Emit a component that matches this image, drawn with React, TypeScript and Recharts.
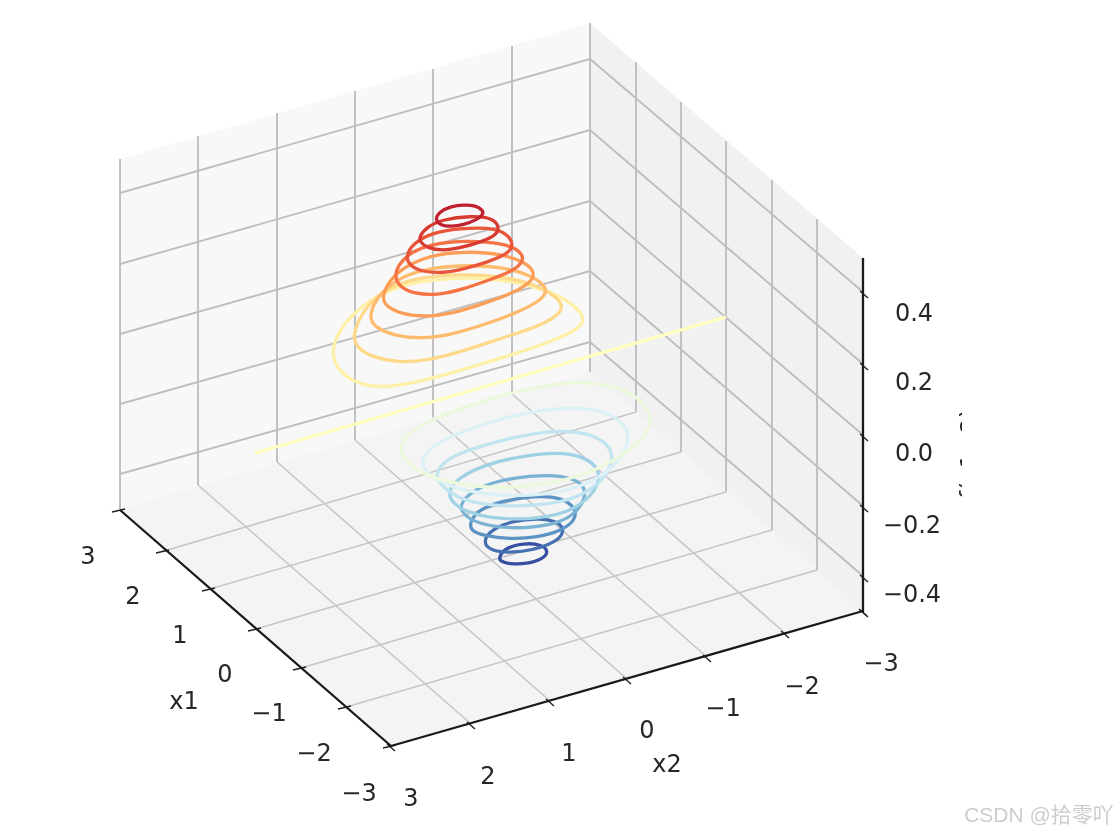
import { Area, ComposedChart, Line, Scatter, XAxis, YAxis } from 'recharts';

const WIDTH = 1117;
const HEIGHT = 835;

const leftWall = [
  { x: 120, range: [159, 509] },
  { x: 590, range: [23, 372] },
];
const rightWall = [
  { x: 590, range: [23, 372] },
  { x: 863, range: [258, 611] },
];
const floor = [
  { x: 120, range: [509, 509] },
  { x: 391, range: [430, 746] },
  { x: 590, range: [372, 689] },
  { x: 863, range: [611, 611] },
];

const wallGridLines = [
  // left wall, verticals
  [[120, 159], [120, 509]], [[198, 136], [198, 485]], [[277, 113], [277, 462]], [[355, 91], [355, 440]],
  [[433, 69], [433, 417]], [[512, 46], [512, 394]], [[590, 23], [590, 372]],
  // left wall, z levels
  [[120, 193], [590, 59]], [[120, 264], [590, 130]], [[120, 334], [590, 201]], [[120, 404], [590, 271]], [[120, 474], [590, 342]],
  // right wall, verticals
  [[636, 62], [636, 412]], [[681, 102], [681, 452]], [[726, 141], [726, 492]], [[772, 180], [772, 530]], [[817, 219], [817, 570]],
  // right wall, z levels
  [[590, 59], [863, 292]], [[590, 130], [863, 364]], [[590, 201], [863, 435]], [[590, 271], [863, 506]], [[590, 342], [863, 576]],
];

const floorGridLines = [
  [[164, 551], [636, 412]], [[210, 589], [681, 452]], [[256, 629], [726, 492]], [[301, 668], [772, 530]], [[346, 707], [817, 570]],
  [[471, 724], [198, 485]], [[550, 701], [277, 462]], [[627, 679], [355, 440]], [[707, 657], [433, 417]], [[785, 633], [512, 394]],
];

const spines = [
  [[120, 510], [391, 746]],
  [[391, 746], [863, 611]],
  [[863, 258], [863, 612]],
];

const x1Ticks = [[120, 510], [164, 551], [210, 589], [256, 629], [301, 668], [346, 707], [391, 746]];
const x2Ticks = [[391, 746], [471, 724], [550, 701], [627, 679], [707, 657], [785, 633], [863, 611]];
const zTicks = [[863, 293], [863, 365], [863, 436], [863, 507], [863, 577], [863, 612]];

const tickLabels = [
  { x: 88, y: 556, text: '3' }, { x: 133, y: 596, text: '2' }, { x: 180, y: 635, text: '1' }, { x: 225, y: 674, text: '0' },
  { x: 269, y: 713, text: '−1' }, { x: 314, y: 753, text: '−2' }, { x: 359, y: 793, text: '−3' },
  { x: 411, y: 798, text: '3' }, { x: 488, y: 776, text: '2' }, { x: 569, y: 753, text: '1' }, { x: 647, y: 730, text: '0' },
  { x: 723, y: 708, text: '−1' }, { x: 802, y: 686, text: '−2' }, { x: 881, y: 663, text: '−3' },
  { x: 914, y: 313, text: '0.4' }, { x: 914, y: 382, text: '0.2' }, { x: 914, y: 453, text: '0.0' },
  { x: 912, y: 525, text: '−0.2' }, { x: 912, y: 594, text: '−0.4' },
  { x: 184, y: 701, text: 'x1' }, { x: 667, y: 764, text: 'x2' },
];

const zLabel = [{ x: 977, y: 454, text: 'f(x1,x2)' }];
const watermark = [{ x: 1039, y: 814, text: 'CSDN @拾零吖' }];

const zeroLevel = [[255, 453], [726, 317]];

// contour levels, highest first
const warmLevels = [
  [[436, 219.3], [440.7, 211.7], [451.7, 206.7], [463.3, 205.3], [475, 206], [482, 210.7], [482, 215], [475, 220], [463.3, 224.3], [451.7, 226], [441.7, 225]],
  [[420.7, 236.7], [428.3, 227], [443.3, 220], [470, 216.7], [490, 218.3], [497.7, 226.7], [495, 235], [480, 241.7], [460, 247.3], [443.3, 250], [428.3, 247.3], [421.7, 241.7]],
  [[407.3, 256.7], [415, 243.3], [433.3, 233.3], [460, 229.3], [486.7, 228.3], [505, 233.3], [511.7, 245], [506.7, 253.3], [486.7, 261.7], [463.3, 268.3], [443.3, 272.3], [423.3, 271], [411.7, 265]],
  [[395.7, 275], [403.3, 260], [420, 248.3], [446.7, 242.7], [476.7, 241.7], [506.7, 245], [520, 253.3], [521.7, 261.7], [510, 271.7], [486.7, 280], [463.3, 288.3], [440, 294], [416.7, 293.3], [401.7, 286.7]],
  [[383.3, 296.7], [393.3, 276.7], [413.3, 263.3], [436.7, 255], [470, 252.3], [500, 255], [523.3, 262.7], [533.3, 273.3], [528.3, 283.3], [506.7, 295], [476.7, 305], [450, 313.3], [426.7, 316], [403.3, 313.3], [388.3, 306]],
  [[370.7, 315], [381.7, 293.3], [403.3, 276.7], [433.3, 268.3], [470, 266], [503.3, 268.3], [530, 276.7], [546, 288.3], [540, 300], [513.3, 313.3], [480, 325], [450, 334], [423.3, 337.7], [396.7, 335], [376.7, 326.7]],
  [[355, 335], [365, 310], [388.3, 288.3], [420, 278.3], [460, 275], [500, 277.3], [533.3, 285], [558.3, 300], [560.7, 311.7], [540, 325], [503.3, 336.7], [463.3, 350], [430, 359.3], [400, 361.7], [370, 355], [358.3, 345]],
  [[332.7, 351.7], [343.3, 326.7], [363.3, 306.7], [393.3, 288.3], [430, 280.7], [476.7, 278.3], [520, 283.3], [560, 296.7], [581.7, 315], [580, 326.7], [553.3, 340], [513.3, 353.3], [470, 366.7], [430, 378.3], [393.3, 386], [363.3, 385], [341.7, 371.7]],
];

const coolLevels = [
  [[400, 450], [410, 433.3], [433.3, 420], [473.3, 405], [513.3, 393.3], [556.7, 384], [596.7, 383.3], [630, 393.3], [648.3, 411.7], [648.3, 426.7], [636.7, 443.3], [610, 461.7], [576.7, 476.7], [533.3, 485], [490, 487.3], [450, 481.7], [416.7, 470]],
  [[421.7, 461.7], [433.3, 446.7], [456.7, 435], [493.3, 421.7], [533.3, 411.7], [573.3, 408.3], [603.3, 411.7], [623.3, 425], [627.3, 441.7], [616.7, 461.7], [596.7, 478.3], [566.7, 490], [530, 495], [490, 494], [453.3, 486.7], [431.7, 475]],
  [[436.7, 473.3], [450, 458.3], [476.7, 448.3], [513.3, 438.3], [550, 431.7], [580, 432.7], [603.3, 441.7], [611.7, 456.7], [605, 475], [586.7, 491.7], [560, 501.7], [526.7, 505], [493.3, 505], [460, 498.3], [443.3, 485]],
  [[450, 491.7], [460, 478.3], [486.7, 465], [523.3, 456.7], [556.7, 453.3], [580, 456.7], [596.7, 468.3], [596.7, 483.3], [586.7, 498.3], [566.7, 511.7], [536.7, 517.7], [503.3, 518.3], [473.3, 513.3], [455, 503.3]],
  [[461.7, 505], [473.3, 491.7], [496.7, 481.7], [530, 476.7], [560, 476], [580, 483.3], [584, 495], [576.7, 510], [560, 521.7], [533.3, 526.7], [503.3, 527.3], [476.7, 521.7], [465, 513.3]],
  [[471.7, 523.3], [480, 510], [503.3, 501.7], [533.3, 496.7], [560, 498.3], [573.3, 508.3], [573.3, 520], [560, 530], [536.7, 536.7], [510, 538.3], [485, 535], [473.3, 530]],
  [[485, 541.7], [493.3, 530], [513.3, 521.7], [540, 519], [558.3, 523.3], [561.7, 533.3], [553.3, 541.7], [533.3, 549.3], [510, 551.7], [493.3, 550]],
  [[500.7, 556.7], [506.7, 548.3], [523.3, 544], [540, 545], [546.7, 551.7], [541.7, 558.3], [526.7, 563.3], [510, 563.3], [501.7, 560.7]],
];

const warmColors = ['#c1202f', '#d73a2e', '#e95538', '#f57245', '#fb9e58', '#fdbb6d', '#fed98a', '#fef0a6'];
const zeroColor = '#ffffc0';
const coolColors = ['#ecf8dc', '#dcf1f6', '#c0e5f0', '#9ed1e4', '#7ab2d4', '#5b93c3', '#4470b1', '#364fa0'];

const toPoints = (pts: number[][]) => pts.map(([x, y]) => ({ x, y }));

// closed b-spline, control points pushed out a bit so the ring doesn't shrink inside the read points
const ring = (ctx: any) => {
  let pts: number[][] = [];
  return {
    areaStart() {},
    areaEnd() {},
    lineStart() {
      pts = [];
    },
    point(x: number, y: number) {
      pts.push([+x, +y]);
    },
    lineEnd() {
      const n = pts.length;
      const mx = pts.reduce((s, p) => s + p[0], 0) / n;
      const my = pts.reduce((s, p) => s + p[1], 0) / n;
      const grow = 1 / (1 - (1 - Math.cos((2 * Math.PI) / n)) / 3);
      const c = pts.map(([x, y]) => [mx + (x - mx) * grow, my + (y - my) * grow]);
      const at = (i: number) => c[i % n];
      const mid = (i: number, k: number) => (at(i)[k] + 4 * at(i + 1)[k] + at(i + 2)[k]) / 6;
      ctx.moveTo(mid(0, 0), mid(0, 1));
      for (let i = 1; i <= n; i++) {
        const a = at(i);
        const b = at(i + 1);
        ctx.bezierCurveTo(
          (2 * a[0] + b[0]) / 3,
          (2 * a[1] + b[1]) / 3,
          (a[0] + 2 * b[0]) / 3,
          (a[1] + 2 * b[1]) / 3,
          mid(i, 0),
          mid(i, 1),
        );
      }
      ctx.closePath();
    },
  };
};

const path = (key: string, pts: number[][], stroke: string, width: number, type: any = 'linear') => (
  <Line
    key={key}
    data={toPoints(pts)}
    dataKey="y"
    type={type}
    stroke={stroke}
    strokeWidth={width}
    dot={false}
    activeDot={false}
    legendType="none"
    isAnimationActive={false}
  />
);

const TickLabel = ({ cx, cy, payload }: any) => (
  <text x={cx} y={cy} textAnchor="middle" dominantBaseline="central" fontFamily="DejaVu Sans" fontSize={24} fill="#262626">
    {payload.text}
  </text>
);

// the axis label is cut off by the right edge of the original figure, only the glyph tops show
const ZLabel = ({ cx, cy, payload }: any) => (
  <g>
    <defs>
      <clipPath id="zlabel-clip">
        <rect x={cx - 40} y={cy - 80} width={25} height={160} />
      </clipPath>
    </defs>
    <g clipPath="url(#zlabel-clip)">
      <text
        x={cx}
        y={cy}
        textAnchor="middle"
        transform={`rotate(-90 ${cx} ${cy})`}
        fontFamily="DejaVu Sans"
        fontSize={23}
        fill="#262626"
      >
        {payload.text}
      </text>
    </g>
  </g>
);

const Watermark = ({ cx, cy, payload }: any) => (
  <text
    x={cx}
    y={cy}
    textAnchor="middle"
    dominantBaseline="central"
    fontFamily="Liberation Sans, Noto Sans CJK SC"
    fontSize={21}
    fill="#cdcdcd"
  >
    {payload.text}
  </text>
);

export default function App() {
  return (
    <div
      style={{
        position: 'absolute',
        left: 0,
        top: 0,
        width: WIDTH,
        height: HEIGHT,
        background: '#fff',
        filter: 'blur(0.5px)',
      }}
    >
      <ComposedChart width={WIDTH} height={HEIGHT} margin={{ top: 0, right: 0, bottom: 0, left: 0 }}>
        <XAxis type="number" dataKey="x" domain={[0, WIDTH]} hide />
        <YAxis type="number" dataKey="y" domain={[0, HEIGHT]} reversed hide />

        <Area data={leftWall} dataKey="range" type="linear" fill="#f8f8f8" fillOpacity={1} stroke="none" isAnimationActive={false} />
        <Area data={rightWall} dataKey="range" type="linear" fill="#f1f1f1" fillOpacity={1} stroke="none" isAnimationActive={false} />
        <Area data={floor} dataKey="range" type="linear" fill="#f4f4f4" fillOpacity={1} stroke="none" isAnimationActive={false} />

        {wallGridLines.map((g, i) => path(`grid-${i}`, g, '#bebebe', 1.9))}
        {floorGridLines.map((g, i) => path(`floor-${i}`, g, '#c6c6c6', 1.6))}
        {x1Ticks.map(([x, y], i) => path(`x1t-${i}`, [[x - 8, y + 2], [x + 5, y - 1]], '#222', 1.4))}
        {x2Ticks.map(([x, y], i) => path(`x2t-${i}`, [[x - 4, y - 2], [x + 4, y + 5]], '#222', 1.4))}
        {zTicks.map(([x, y], i) => path(`zt-${i}`, [[x - 3, y - 2], [x + 5, y + 5]], '#222', 1.4))}
        {spines.map((s, i) => path(`spine-${i}`, s, '#1a1a1a', 2.3))}

        {coolLevels.map((c, i) => path(`cool-${i}`, c, coolColors[i], 3.3, ring)).reverse()}
        {path('zero', zeroLevel, zeroColor, 3.3)}
        {warmLevels.map((c, i) => path(`warm-${i}`, c, warmColors[i], 3.3, ring)).reverse()}

        <Scatter data={tickLabels} shape={TickLabel} isAnimationActive={false} />
        <Scatter data={zLabel} shape={ZLabel} isAnimationActive={false} />
        <Scatter data={watermark} shape={Watermark} isAnimationActive={false} />
      </ComposedChart>
    </div>
  );
}
